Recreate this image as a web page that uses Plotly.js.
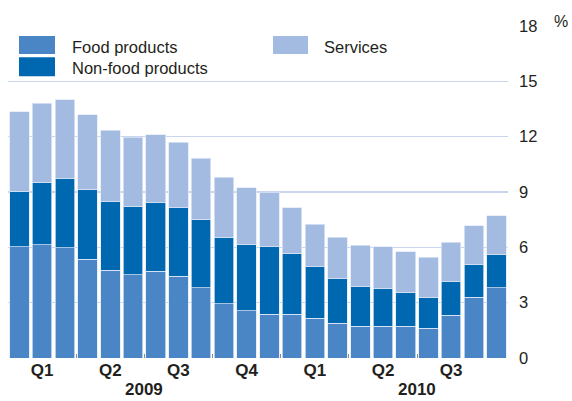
<!DOCTYPE html>
<html>
<head>
<meta charset="utf-8">
<script src="https://cdn.plot.ly/plotly-3.0.1.min.js"></script>
<style>html,body{margin:0;padding:0;background:#fff;}#chart{width:572px;height:401px;}</style>
</head>
<body>
<div id="chart"></div>
<script>
// Months Jan 2009 .. Oct 2010
const months = ['Jan 09','Feb 09','Mar 09','Apr 09','May 09','Jun 09','Jul 09','Aug 09','Sep 09','Oct 09','Nov 09','Dec 09',
                'Jan 10','Feb 10','Mar 10','Apr 10','May 10','Jun 10','Jul 10','Aug 10','Sep 10','Oct 10'];
const foodProducts    = [6.04,6.13,5.98,5.35,4.76,4.51,4.71,4.42,3.80,2.95,2.56,2.38,2.36,2.16,1.89,1.71,1.71,1.71,1.62,2.31,3.29,3.80];
const nonFoodProducts = [3.00,3.40,3.75,3.76,3.71,3.73,3.71,3.73,3.71,3.61,3.57,3.64,3.33,2.80,2.40,2.16,2.07,1.84,1.67,1.82,1.78,1.80];
const services        = [4.32,4.29,4.27,4.09,3.89,3.74,3.69,3.56,3.31,3.24,3.09,2.96,2.46,2.29,2.27,2.24,2.24,2.21,2.18,2.14,2.11,2.11];
const quarterTickMonths = ['Feb 09','May 09','Aug 09','Nov 09','Feb 10','May 10','Aug 10'];
const quarterTickText   = ['Q1','Q2','Q3','Q4','Q1','Q2','Q3'];
const quarterBoundaries = [-0.5,2.5,5.5,8.5,11.5,14.5,17.5,21.5];
const years = ['2009','2010'];
const yearCenters = [5.5,17.5];
const yTicks = [0,3,6,9,12,15,18];

const seriesNames = ['Food products','Non-food products','Services'];
const colors = ['#4a86c6','#0067b1','#a4bbe1'];
const FONT = 'Liberation Sans, Arial, Helvetica, sans-serif';
const TXT = '#231f20';

const dataSets = [foodProducts, nonFoodProducts, services];
const traces = dataSets.map((d,i)=>({
  type:'bar', x: months, y: d, name: seriesNames[i],
  marker:{color: colors[i], line:{color:'rgba(225,233,246,0.9)', width:0.8}},
  showlegend:false, hoverinfo:'y'
}));
// invisible trace for boundary tick axis
traces.push({type:'scatter', x:[-0.5,21.5], y:[0,0], xaxis:'x2', mode:'none', showlegend:false, hoverinfo:'skip'});

const shapes = [];
const annotations = [];
// manual legend (swatches + labels)
const legendItems = [
  {name: seriesNames[0], color: colors[0], x0:0.022, x1:0.094, y0:0.916, y1:0.970, ty:0.937, tx:0.124},
  {name: seriesNames[1], color: colors[1], x0:0.022, x1:0.094, y0:0.849, y1:0.906, ty:0.873, tx:0.124},
  {name: seriesNames[2], color: colors[2], x0:0.530, x1:0.600, y0:0.916, y1:0.970, ty:0.937, tx:0.628}
];
legendItems.forEach(it=>{
  shapes.push({type:'rect', xref:'paper', yref:'paper', x0:it.x0, x1:it.x1, y0:it.y0, y1:it.y1,
    fillcolor:it.color, line:{width:0}});
  annotations.push({xref:'paper', yref:'paper', x:it.tx, y:it.ty, xanchor:'left', yanchor:'middle',
    text:it.name, showarrow:false, font:{family:FONT, size:16.5, color:TXT}});
});
years.forEach((yr,i)=>{
  annotations.push({xref:'x2', yref:'paper', x:yearCenters[i], y:-0.1265, xanchor:'center', yanchor:'bottom',
    text:'<b>'+yr+'</b>', showarrow:false, borderpad:0, font:{family:FONT, size:17, color:TXT}});
});
annotations.push({xref:'paper', yref:'paper', x:1.088, y:1.013, xanchor:'left', yanchor:'middle',
  text:'%', showarrow:false, font:{family:FONT, size:16, color:TXT}});

const layout = {
  width:572, height:401,
  margin:{l:8, r:64, t:26, b:43},
  paper_bgcolor:'#fff', plot_bgcolor:'#fff',
  barmode:'stack', bargap:0.14,
  font:{family:FONT, color:TXT},
  xaxis:{type:'category', categoryorder:'array', categoryarray:months, range:[-0.5,21.5],
    tickvals:quarterTickMonths, ticktext:quarterTickText.map(t=>'<b>'+t+'</b>'),
    ticks:'', showgrid:false, zeroline:false, showline:false,
    tickfont:{family:FONT, size:17, color:TXT}},
  xaxis2:{overlaying:'x', type:'linear', range:[-0.5,21.5], side:'bottom',
    tickvals:quarterBoundaries, ticks:'inside', ticklen:4, tickwidth:1, tickcolor:'#8a8a8a',
    showticklabels:false, showgrid:false, zeroline:false, showline:false},
  yaxis:{side:'right', range:[0,18], tickvals:yTicks, ticks:'', showline:false, zeroline:false,
    gridcolor:'#c9d5ec', gridwidth:1.5, ticklabelstandoff:10,
    tickfont:{family:FONT, size:16.5, color:TXT}},
  shapes: shapes,
  annotations: annotations
};
Plotly.newPlot('chart', traces, layout, {displayModeBar:false, staticPlot:true});
</script>
</body>
</html>
